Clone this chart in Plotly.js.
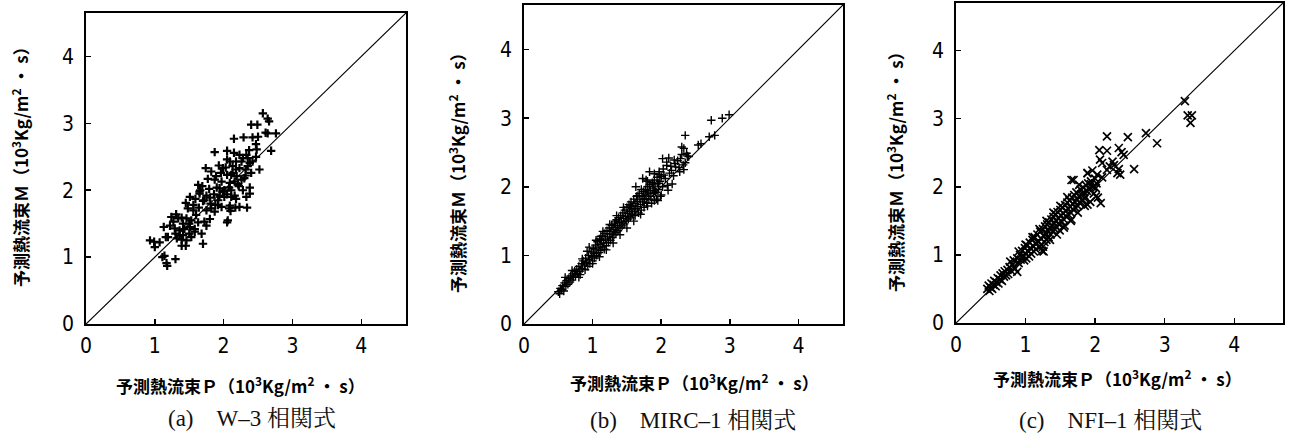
<!DOCTYPE html>
<html>
<head>
<meta charset="utf-8">
<script src="https://cdn.plot.ly/plotly-3.0.1.min.js"></script>
<style>html,body{margin:0;padding:0;background:#fff;}#chart{width:1292px;height:434px;}</style>
</head>
<body>
<div id="chart"></div>
<script>
// Tick values / labels
const tickValues = [0, 1, 2, 3, 4];
const tickLabels = ["0", "1", "2", "3", "4"];

// (a) W-3 correlation: predicted P vs measured M (10^3 kg/m2 s)
const w3P = [2.57,2.64,2.66,2.40,2.49,2.61,2.64,2.76,2.15,2.29,2.42,2.50,2.47,2.48,2.69,1.87,2.05,2.15,2.23,2.33,2.37,2.05,2.18,2.26,2.35,2.38,2.47,1.74,1.93,2.03,2.13,2.23,2.32,2.52,1.96,2.05,2.13,2.19,2.32,2.40,1.77,1.87,1.97,2.09,2.21,2.30,1.69,1.79,1.90,2.01,2.08,2.22,2.38,1.65,1.75,1.86,1.94,2.05,2.16,2.38,1.51,1.59,1.70,1.81,1.92,2.11,2.18,2.33,1.45,1.56,1.64,1.75,1.88,1.97,2.09,2.17,2.23,2.34,2.08,2.10,1.24,1.31,1.39,1.46,1.53,1.63,1.72,1.80,2.06,2.05,1.13,1.22,1.29,1.36,1.43,1.51,1.58,1.68,1.75,1.30,1.36,1.41,1.50,1.19,1.32,1.39,0.93,0.99,1.16,1.70,1.39,1.45,1.00,1.14,1.11,1.30,1.17,1.18,1.63,1.66,1.80,1.94,1.99,2.16,2.26,2.28,2.11,2.01,1.92,1.82,1.56,1.48,1.34,1.60,1.87,1.99,2.09,2.28,2.35,2.42,2.18,2.11,1.89,1.82,1.65,1.72,1.41,1.50,1.27,1.46,1.53,1.58,1.07];
const w3M = [3.15,3.07,3.03,2.98,2.98,2.86,2.85,2.85,2.77,2.79,2.79,2.80,2.69,2.61,2.59,2.57,2.59,2.56,2.53,2.53,2.60,2.46,2.43,2.43,2.48,2.41,2.50,2.33,2.37,2.34,2.36,2.33,2.31,2.31,2.26,2.23,2.26,2.21,2.22,2.26,2.17,2.16,2.13,2.11,2.09,2.18,2.06,2.02,2.04,2.00,2.04,2.06,2.04,1.95,1.92,1.94,1.92,1.94,1.92,1.95,1.90,1.87,1.84,1.80,1.85,1.90,1.87,1.90,1.81,1.78,1.74,1.70,1.78,1.75,1.77,1.74,1.75,1.74,1.73,1.69,1.60,1.64,1.59,1.58,1.55,1.52,1.53,1.57,1.55,1.52,1.45,1.47,1.43,1.40,1.42,1.45,1.38,1.35,1.47,1.35,1.32,1.33,1.35,1.30,1.28,1.26,1.25,1.23,1.30,1.20,1.17,1.17,1.15,1.02,1.00,0.97,0.91,0.87,2.08,2.00,1.89,2.03,1.98,2.13,2.16,2.00,2.00,1.90,1.78,1.73,1.70,1.73,1.58,1.63,1.68,2.33,2.43,2.48,2.36,2.43,2.31,2.23,2.21,2.28,1.98,1.85,1.50,1.50,1.53,1.25,1.30,1.42,1.22];

// (b) MIRC-1 correlation
const mircP = [0.50,0.52,0.53,0.55,0.56,0.58,0.59,0.61,0.62,0.64,0.65,0.67,0.68,0.70,0.71,0.72,0.74,0.75,0.77,0.78,0.80,0.81,0.82,0.84,0.85,0.86,0.88,0.89,0.90,0.91,0.93,0.94,0.95,0.96,0.98,0.99,1.00,1.01,1.02,1.03,1.04,1.05,1.06,1.07,1.08,1.09,1.10,1.11,1.12,1.13,1.14,1.15,1.16,1.17,1.18,1.19,1.20,1.21,1.22,1.23,1.24,1.25,1.26,1.27,1.28,1.29,1.30,1.31,1.32,1.33,1.34,1.35,1.36,1.37,1.38,1.39,1.40,1.41,1.42,1.43,1.44,1.45,1.46,1.47,1.48,1.49,1.50,1.51,1.52,1.53,1.54,1.55,1.56,1.57,1.58,1.59,1.60,1.61,1.62,1.63,1.64,1.65,1.66,1.67,1.68,1.69,1.70,1.71,1.72,1.73,1.74,1.75,1.76,1.77,1.78,1.79,1.80,1.81,1.82,1.83,1.84,1.85,1.86,1.87,1.88,1.89,1.90,1.91,1.92,1.93,1.94,1.95,1.96,1.97,1.98,1.99,2.00,2.03,2.06,2.08,2.12,2.14,2.18,2.20,2.24,2.26,2.28,2.30,2.32,2.27,2.35,2.73,2.89,2.99,2.70,2.78,2.54,2.58,2.30,2.33,2.37,2.38,2.40,2.35,2.02,2.11,2.19,2.08,2.21,2.15,2.33,1.83,1.90,1.97,2.04,1.73,1.80,1.88,1.96,2.02,2.09,2.16,1.63,1.71,1.80,1.90,1.95,1.75,1.66,
  0.85,0.95,1.05,1.15,1.25,1.35,1.45,1.00,1.10,1.20,1.30,1.40,1.50,1.60,1.70,1.80,1.90,2.00,2.10,0.70,0.60,0.80,0.92,1.12,1.33,1.55,1.62,1.78];
const mircM = [0.47,0.44,0.52,0.50,0.56,0.48,0.60,0.55,0.63,0.58,0.66,0.61,0.70,0.64,0.73,0.68,0.77,0.70,0.80,0.74,0.84,0.77,0.72,0.88,0.81,0.92,0.86,0.79,0.96,0.90,0.84,1.00,0.94,0.88,1.05,0.98,0.92,1.10,1.03,0.96,1.15,1.08,1.00,1.20,1.12,1.04,1.24,1.16,1.07,1.22,1.12,1.28,1.18,1.09,1.32,1.24,1.14,1.36,1.27,1.19,1.40,1.31,1.22,1.35,1.44,1.26,1.38,1.30,1.47,1.41,1.33,1.52,1.44,1.36,1.55,1.48,1.40,1.58,1.50,1.43,1.62,1.54,1.46,1.66,1.57,1.50,1.70,1.61,1.53,1.74,1.64,1.56,1.78,1.68,1.60,1.72,1.82,1.64,1.76,1.68,1.86,1.79,1.71,1.62,1.90,1.82,1.74,1.66,1.86,1.78,1.93,1.70,1.83,1.96,1.88,1.76,2.00,1.91,1.82,2.03,1.95,1.86,1.76,2.06,1.98,1.90,2.10,2.01,1.92,1.82,2.14,2.05,1.96,2.18,2.08,1.86,2.15,2.26,2.12,2.36,2.20,2.30,2.16,2.34,2.38,2.28,2.41,2.47,2.32,2.22,2.75,2.97,3.00,3.05,2.73,2.75,2.61,2.63,2.58,2.56,2.49,2.45,2.44,2.35,2.41,2.42,2.39,2.31,2.29,2.24,2.25,2.22,2.19,2.22,2.17,2.12,2.08,2.04,2.05,2.00,2.02,2.04,2.00,1.96,1.94,1.94,1.80,1.82,1.87,
  0.95,1.12,1.22,1.35,1.45,1.58,1.70,0.88,0.98,1.08,1.18,1.30,1.40,1.50,1.60,1.72,1.80,1.88,1.95,0.78,0.68,0.68,1.06,1.28,1.50,1.72,1.58,2.10];

// (c) NFI-1 correlation
const nfiP = [0.45,0.47,0.48,0.50,0.51,0.52,0.54,0.55,0.57,0.58,0.60,0.61,0.63,0.64,0.66,0.67,0.69,0.70,0.72,0.74,0.75,0.77,0.78,0.80,0.82,0.83,0.85,0.88,0.88,0.90,0.92,0.93,0.95,0.96,0.98,0.99,1.00,1.01,1.02,1.03,1.05,1.06,1.07,1.08,1.10,1.11,1.12,1.13,1.14,1.15,1.17,1.18,1.19,1.21,1.26,1.21,1.22,1.23,1.24,1.25,1.26,1.27,1.28,1.29,1.30,1.31,1.32,1.33,1.34,1.35,1.36,1.37,1.38,1.39,1.40,1.41,1.42,1.43,1.44,1.45,1.46,1.47,1.48,1.49,1.50,1.51,1.52,1.53,1.54,1.55,1.56,1.57,1.58,1.59,1.60,1.61,1.62,1.63,1.64,1.65,1.66,1.67,1.68,1.69,1.70,1.71,1.72,1.73,1.74,1.75,1.66,1.77,1.78,1.79,1.80,1.81,1.83,1.84,1.85,1.87,1.88,1.89,1.90,1.92,1.94,1.89,1.97,1.98,2.00,2.02,2.04,3.29,3.33,3.39,3.37,2.73,2.89,2.17,2.47,2.06,2.17,2.34,2.38,2.41,2.07,2.10,2.25,2.27,2.56,2.21,2.17,2.32,2.36,2.34,1.89,1.96,2.03,2.10,1.69,1.77,1.94,2.01,2.01,2.08,1.93,1.84,
  1.20,1.30,1.40,1.50,1.60,1.10,1.00,1.35,1.45,1.55,1.65,1.75,1.85,0.90,1.25];
const nfiM = [0.50,0.55,0.47,0.52,0.58,0.50,0.56,0.62,0.54,0.60,0.66,0.58,0.64,0.70,0.62,0.73,0.68,0.76,0.70,0.78,0.72,0.82,0.90,0.76,0.86,0.92,0.80,0.75,0.95,0.88,1.00,0.93,1.06,0.98,0.92,1.10,1.02,0.95,1.14,1.06,0.98,1.18,1.10,1.02,1.22,1.13,1.05,1.26,1.17,1.08,1.30,1.20,1.12,1.12,1.05,1.34,1.24,1.15,1.06,1.38,1.28,1.19,1.42,1.32,1.22,1.45,1.36,1.26,1.48,1.40,1.30,1.52,1.43,1.34,1.56,1.46,1.38,1.60,1.50,1.41,1.63,1.54,1.45,1.36,1.66,1.58,1.49,1.70,1.61,1.52,1.43,1.73,1.65,1.56,1.77,1.68,1.59,1.80,1.71,1.62,1.52,1.84,1.75,1.66,1.88,1.78,1.69,1.92,1.82,1.72,2.10,1.86,1.76,1.96,1.89,1.80,1.99,1.92,1.83,2.02,1.94,1.74,2.05,1.97,2.08,2.20,2.00,1.90,2.12,2.05,1.84,3.26,3.05,3.05,2.94,2.79,2.64,2.74,2.73,2.54,2.53,2.57,2.51,2.47,2.40,2.35,2.37,2.32,2.26,2.30,2.25,2.20,2.18,2.26,2.20,2.24,2.18,2.14,2.10,2.03,2.04,1.98,1.86,1.76,1.78,1.88,
  1.38,1.50,1.62,1.72,1.85,1.26,1.15,1.22,1.30,1.40,1.50,1.62,1.72,1.05,1.12];

// diagonal reference line P = M
const diagP = [0, 5];
const diagM = [0, 5];

const panels = [
  {P: w3P, M: w3M, symbol: 'cross-thin', size: 6, lw: 2.2, xd: [86, 406], yd: [13, 324], range: 4.65},
  {P: mircP, M: mircM, symbol: 'cross-thin', size: 6, lw: 1.4, xd: [524, 843], yd: [5, 324], range: 4.65},
  {P: nfiP, M: nfiM, symbol: 'x-thin', size: 8, lw: 1.7, xd: [956, 1283], yd: [3, 323], range: 4.7}
];
const W = 1292, H = 434;
const traces = [];
const layout = {
  width: W, height: H, margin: {l: 0, r: 0, t: 0, b: 0},
  paper_bgcolor: '#fff', plot_bgcolor: '#fff', showlegend: false,
  annotations: []
};
const tickFont = {family: '"Liberation Sans Narrow", "DejaVu Sans Condensed", Arial, sans-serif', size: 21, color: '#000'};
panels.forEach((p, i) => {
  const n = i === 0 ? '' : String(i + 1);
  traces.push({type: 'scatter', mode: 'markers', x: p.P, y: p.M, xaxis: 'x' + n, yaxis: 'y' + n,
    marker: {symbol: p.symbol, size: p.size, color: '#000', line: {color: '#000', width: p.lw}}, hoverinfo: 'x+y'});
  traces.push({type: 'scatter', mode: 'lines', x: diagP, y: diagM, xaxis: 'x' + n, yaxis: 'y' + n,
    line: {color: '#000', width: 1.2}, hoverinfo: 'skip'});
  const common = {range: [0, p.range], tickvals: tickValues, ticktext: tickLabels, ticks: 'inside', ticklen: 5,
    tickwidth: 1.5, tickcolor: '#000', showline: true, mirror: true, linecolor: '#000', linewidth: 1.8,
    showgrid: false, zeroline: false, tickfont: tickFont, fixedrange: true};
  layout['xaxis' + n] = Object.assign({}, common, {domain: [p.xd[0] / W, p.xd[1] / W], anchor: 'y' + n, ticklabelstandoff: 2});
  layout['yaxis' + n] = Object.assign({}, common, {domain: [1 - p.yd[1] / H, 1 - p.yd[0] / H], anchor: 'x' + n, ticklabelstandoff: 6});
});

const titleFont = {family: '"Noto Sans CJK JP", "Noto Sans", sans-serif', size: 17, color: '#000', weight: 'bold'};
const capFont = {family: '"Liberation Serif", "Noto Serif CJK JP", "Noto Sans CJK JP", serif', size: 23, color: '#111'};
const xTitle = '予測熱流束Ｐ（10<sup>3</sup>Kg/m<sup>2</sup> ・ s）';
const yTitle = '予測熱流束Ｍ（10<sup>3</sup>Kg/m<sup>2</sup> ・ s）';
const captions = ['(a)　W–3 相関式', '(b)　MIRC–1 相関式', '(c)　NFI–1 相関式'];
const xTitlePos = [[241, 385], [694, 382], [1117, 378]];
const yTitlePos = [[20, 163], [457, 168], [895, 168]];
const capPos = [[252, 418], [693, 420], [1110, 420]];
for (let i = 0; i < 3; i++) {
  layout.annotations.push({xref: 'paper', yref: 'paper', x: xTitlePos[i][0] / W, y: 1 - xTitlePos[i][1] / H,
    xanchor: 'center', yanchor: 'middle', text: xTitle, showarrow: false, font: titleFont});
  layout.annotations.push({xref: 'paper', yref: 'paper', x: yTitlePos[i][0] / W, y: 1 - yTitlePos[i][1] / H,
    xanchor: 'center', yanchor: 'middle', text: yTitle, showarrow: false, font: titleFont, textangle: -90});
  layout.annotations.push({xref: 'paper', yref: 'paper', x: capPos[i][0] / W, y: 1 - capPos[i][1] / H,
    xanchor: 'center', yanchor: 'middle', text: captions[i], showarrow: false, font: capFont});
}
Plotly.newPlot('chart', traces, layout, {staticPlot: true, displayModeBar: false});
</script>
</body>
</html>
